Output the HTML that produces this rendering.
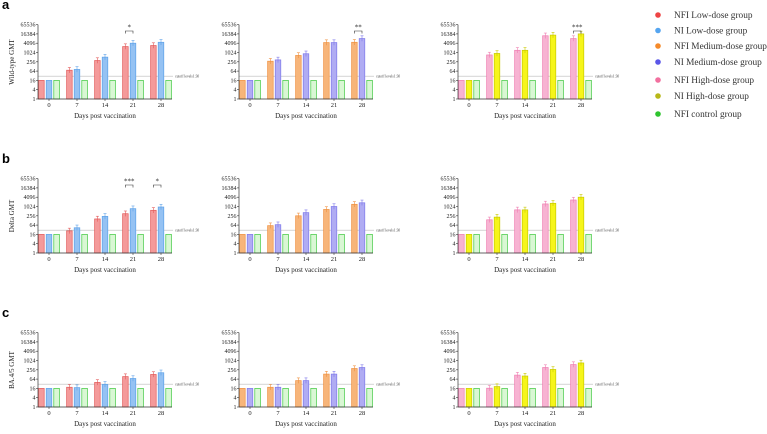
<!DOCTYPE html>
<html><head><meta charset="utf-8">
<style>
html,body{margin:0;padding:0;background:#fff;}
svg{display:block;font-family:"Liberation Serif",serif;}
</style></head>
<body>
<svg id="fig" width="767" height="434" viewBox="0 0 767 434"></svg>
<script>
const days = ["0","7","14","21","28"];
const yTicks = [1,4,16,64,256,1024,4096,16384,65536];
const rowTitles = ["Wild-type GMT","Delta GMT","BA.4/5 GMT"];
const rowLetters = ["a","b","c"];
// GMT values [row][panel] -> {A: first group, B: second group}
const a1A=[16,73,310,2480,2900], a1B=[16,82,512,4096,4700];
const a2A=[16,280,660,4500,4700], a2B=[16,340,850,4500,8200];
const a3A=[16,710,1420,12400,8200], a3B=[16,890,1420,13700,16384];
const b1A=[16,27,160,350,580], b1B=[16,43,235,740,950];
const b2A=[16,59,256,660,1420], b2B=[16,68,410,1024,1780];
const b3A=[16,141,620,1500,2700], b3B=[16,210,620,1650,4096];
const c1A=[16,19,39,93,128], c1B=[16,18,29,70,165];
const c2A=[16,19,51,135,310], c2B=[16,19,51,135,360];
const c3A=[16,16.5,116,360,560], c3B=[16,21,101,270,710];
const ctrl=[16,16,16,16,16];
const cutoff=30;
const sigs=[[{p:0,g:3,t:"*"},{p:1,g:4,t:"**"},{p:2,g:4,t:"***"}],[{p:0,g:3,t:"***"},{p:0,g:4,t:"*"}],[]];
const legendLabels=["NFI Low-dose group","NI Low-dose group","NFI Medium-dose group","NI Medium-dose group","NFI High-dose group","NI High-dose group","NFI control group"];
const legendColors=["#ee4444","#55a5f0","#f58a2a","#5a56e8","#f2709f","#b8b818","#2ec42e"];

const data=[[[a1A,a1B],[a2A,a2B],[a3A,a3B]],[[b1A,b1B],[b2A,b2B],[b3A,b3B]],[[c1A,c1B],[c2A,c2B],[c3A,c3B]]];
const styles=[[["#f49a9a","#e35a5a"],["#95c2f3","#5ea2e8"]],[["#f7b57a","#ef9140"],["#b0acf3","#7e78ea"]],[["#f7b3d2","#ef7fb2"],["#f6f51a","#c9c900"]]];
const ctrlStyle=["#d9f7d4","#3fc83f"];
const panelX=[38,239,458];
const rowY1=[99,253,407];
const unit=9.3;
const NS="http://www.w3.org/2000/svg";
const svg=document.getElementById('fig');
function el(tag,attrs,parent){const e=document.createElementNS(NS,tag);for(const k in attrs)e.setAttribute(k,attrs[k]);(parent||svg).appendChild(e);return e;}
function yScale(r,v){return rowY1[r]-Math.log(v)/Math.log(4)*unit;}
function xCenter(p,g){return panelX[p]+11+g*28;}

for(let r=0;r<3;r++){
  const lt=el('text',{x:2,y:rowY1[r]-90,'font-size':13,'font-weight':'bold','font-family':'Liberation Sans,sans-serif'});
  lt.textContent=rowLetters[r];
  
  
  for(let p=0;p<3;p++){
    const g0=el('g',{});
    
    
    const x0=panelX[p], x1=x0+134, yb=rowY1[r];
    // cutoff
    const cy=yScale(r,cutoff);
    const cl=el('line',{x1:x0,x2:x1+1,y1:cy,y2:cy,stroke:'#bbb','stroke-width':0.6},g0);
    
    
    const ct=el('text',{x:x1+3,y:cy+1.5,'font-size':3.6,fill:'#444'},g0);
    ct.textContent='cutoff levels1:30';
    
    
    // bars
    for(let g=0;g<5;g++){
      const cx=xCenter(p,g);
      const sets=[[data[r][p][0],styles[p][0],-7.6],[data[r][p][1],styles[p][1],0],[ctrl,ctrlStyle,7.6]];
      sets.forEach((s,i)=>{
        const v=s[0][g]; const top=yScale(r,v);
        const b=el('rect',{x:cx+s[2]-2.8,y:top,width:5.6,height:yb-top,fill:s[1][0],stroke:s[1][1],'stroke-width':0.7},g0);
        
        
        if(i<2&&g>0){
          const e1=yScale(r,v*1.5), e2=yScale(r,v/1.5);
          el('line',{x1:cx+s[2],x2:cx+s[2],y1:e1,y2:e2,stroke:s[1][1],'stroke-width':0.6},g0);
          el('line',{x1:cx+s[2]-1.5,x2:cx+s[2]+1.5,y1:e1,y2:e1,stroke:s[1][1],'stroke-width':0.6},g0);
        }
      });
      el('line',{x1:cx,x2:cx,y1:yb,y2:yb+2,stroke:'#333','stroke-width':0.6},g0);
      const xl=el('text',{x:cx,y:yb+8,'font-size':6.5,'text-anchor':'middle',fill:'#222'},g0);
      xl.textContent=days[g];
      
      
    }
    // axes
    el('line',{x1:x0,x2:x1,y1:yb,y2:yb,stroke:'#333','stroke-width':0.7},g0);
    el('line',{x1:x0,x2:x0,y1:yb,y2:yScale(r,65536),stroke:'#333','stroke-width':0.7},g0);
    yTicks.forEach(t=>{
      const ty=yScale(r,t);
      el('line',{x1:x0-2,x2:x0,y1:ty,y2:ty,stroke:'#333','stroke-width':0.6},g0);
      const tl=el('text',{x:x0-2.5,y:ty+2,'font-size':6,'text-anchor':'end',fill:'#222'},g0);
      tl.textContent=t;
      
      
    });
    const xt=el('text',{x:x0+67,y:yb+19,'font-size':7,'text-anchor':'middle',fill:'#222'},g0);
    xt.textContent='Days post vaccination';
    
    
    if(p===0){
      const yt=el('text',{x:0,y:0,'font-size':7,'text-anchor':'middle',fill:'#222',transform:`translate(${x0-24},${yb-37}) rotate(-90)`},g0);
      yt.textContent=rowTitles[r];
      
      
    }
  }
  sigs[r].forEach(s=>{
    const cx=xCenter(s.p,s.g); const by=rowY1[r]-68;
    el('path',{d:`M${cx-7.6},${by+2.5}V${by}H${cx}V${by+2.5}`,fill:'none',stroke:'#333','stroke-width':0.6});
    const st=el('text',{x:cx-3.8,y:by-1.5,'font-size':7,'text-anchor':'middle',fill:'#222'});
    st.textContent=s.t;
    
    
  });
}
// legend
legendLabels.forEach((l,i)=>{
  const ly=[15,30.5,46,62,80,96,114][i];
  const c=el('circle',{cx:658,cy:ly,r:2.8,fill:legendColors[i]});
  
  
  const t=el('text',{x:674,y:ly+3,'font-size':9.3,fill:'#333'});
  t.textContent=l;
  
  
});
</script>
</body></html>
